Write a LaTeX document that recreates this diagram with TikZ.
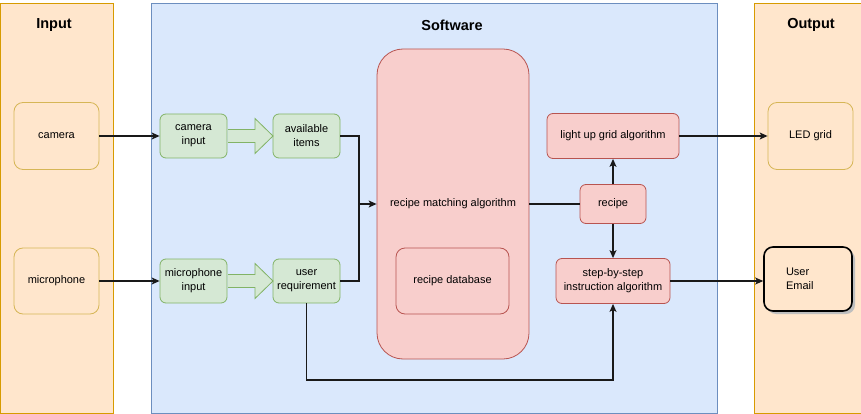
\documentclass[tikz,border=0pt]{standalone}
\usepackage{fontspec}
\setmainfont{Liberation Sans}
\usetikzlibrary{arrows.meta,calc}
\definecolor{panelO}{HTML}{FFE6CC}
\definecolor{panelOb}{HTML}{D79B00}
\definecolor{panelB}{HTML}{DAE8FC}
\definecolor{panelBb}{HTML}{6C8EBF}
\definecolor{grF}{HTML}{D5E8D4}
\definecolor{grB}{HTML}{82B366}
\definecolor{rdF}{HTML}{F8CECC}
\definecolor{rdB}{HTML}{B85450}
\definecolor{yeB}{HTML}{D6B656}
\tikzset{
  lbl/.style={font=\fontsize{11}{14}\selectfont, align=center, inner sep=0pt},
  iobox/.style={lbl, draw=yeB, fill=panelO, line width=0.8pt, rounded corners=9pt},
  grbox/.style={lbl, draw=grB, fill=grF, line width=0.8pt, rounded corners=6pt, minimum width=67pt, minimum height=44pt},
  rdbox/.style={lbl, draw=rdB, fill=rdF, line width=0.8pt, rounded corners=6pt},
  title/.style={font=\fontsize{14.5}{17}\selectfont\bfseries, inner sep=0pt},
  conn/.style={draw=black!90, line width=1.1pt},
  arr/.style={conn, -{Stealth[length=8pt,width=7pt,inset=2pt]}},
}
\begin{document}
\begin{tikzpicture}[x=1pt,y=-1pt]
\useasboundingbox (0,0) rectangle (861,414);
% panels
\draw[fill=panelO, draw=panelOb, line width=0.8pt] (0.5,3) rectangle (113,413);
\draw[fill=panelB, draw=panelBb, line width=0.8pt] (151,3) rectangle (717,413);
\draw[fill=panelO, draw=panelOb, line width=0.8pt] (754,3) rectangle (862,413);
\node[title] (tin) at (54,25) {Input};
\node[title] (tsw) at (452,25) {Software};
\node[title] (tout) at (811,25) {Output};
% input
\node[iobox, minimum width=85pt, minimum height=67pt] (camera) at (56.5,136) {camera};
\node[iobox, minimum width=85pt, minimum height=66pt] (mic) at (56.5,281) {microphone};
% green
\node[grbox] (camin) at (193.5,136) {camera\\input};
\node[grbox] (avail) at (306.5,136) {available\\items};
\node[grbox] (micin) at (193.5,281) {microphone\\input};
\node[grbox] (userreq) at (306.5,281) {user\\requirement};
% fat arrows
\foreach \yy in {136,281}{
  \filldraw[fill=grF, draw=grB, line width=0.8pt, line join=miter]
    (228,\yy-6.5) -- (255,\yy-6.5) -- (255,\yy-17.5) -- (273,\yy) -- (255,\yy+17.5) -- (255,\yy+6.5) -- (228,\yy+6.5);
}
% red
\node[rdbox, rounded corners=26pt, minimum width=152pt, minimum height=310pt] (match) at (453,204) {};
\node[lbl] (matchtxt) at (453,204) {recipe matching algorithm};
\node[rdbox, rounded corners=9pt, minimum width=113pt, minimum height=66pt] (db) at (452.5,281) {recipe database};
\node[rdbox, minimum width=132pt, minimum height=45pt] (light) at (613,136) {light up grid algorithm};
\node[rdbox, minimum width=66pt, minimum height=39pt] (recipe) at (613,204) {recipe};
\node[rdbox, minimum width=114pt, minimum height=45pt] (step) at (613,281) {step-by-step\\instruction algorithm};
% output
\node[iobox, minimum width=85pt, minimum height=67pt] (led) at (810.5,136) {LED grid};
\fill[black!25, rounded corners=9pt] (767,250) rectangle (855,314);
\node[lbl, draw=black, fill=panelO, line width=1.6pt, rounded corners=9pt, minimum width=88pt, minimum height=64pt, text width=44pt, align=left] (email) at (808,279) {User\\Email};
% connectors
\draw[arr] (camera.east) -- (camin.west);
\draw[arr] (mic.east) -- (micin.west);
\coordinate (j) at (359,204);
\draw[conn] (avail.east) -| (j);
\draw[conn] (userreq.east) -| (j);
\draw[arr] (j) -- (match.west);
\draw[conn] (match.east) -- (recipe.west);
\draw[arr] (recipe.north) -- (light.south);
\draw[arr] (recipe.south) -- (step.north);
\draw[arr] (light.east) -- (led.west);
\draw[arr] (step.east) -- (step.east -| email.west);
\coordinate (b) at (306.5,380);
\draw[arr] (userreq.south) -- (b) -| (step.south);
\end{tikzpicture}
\end{document}
